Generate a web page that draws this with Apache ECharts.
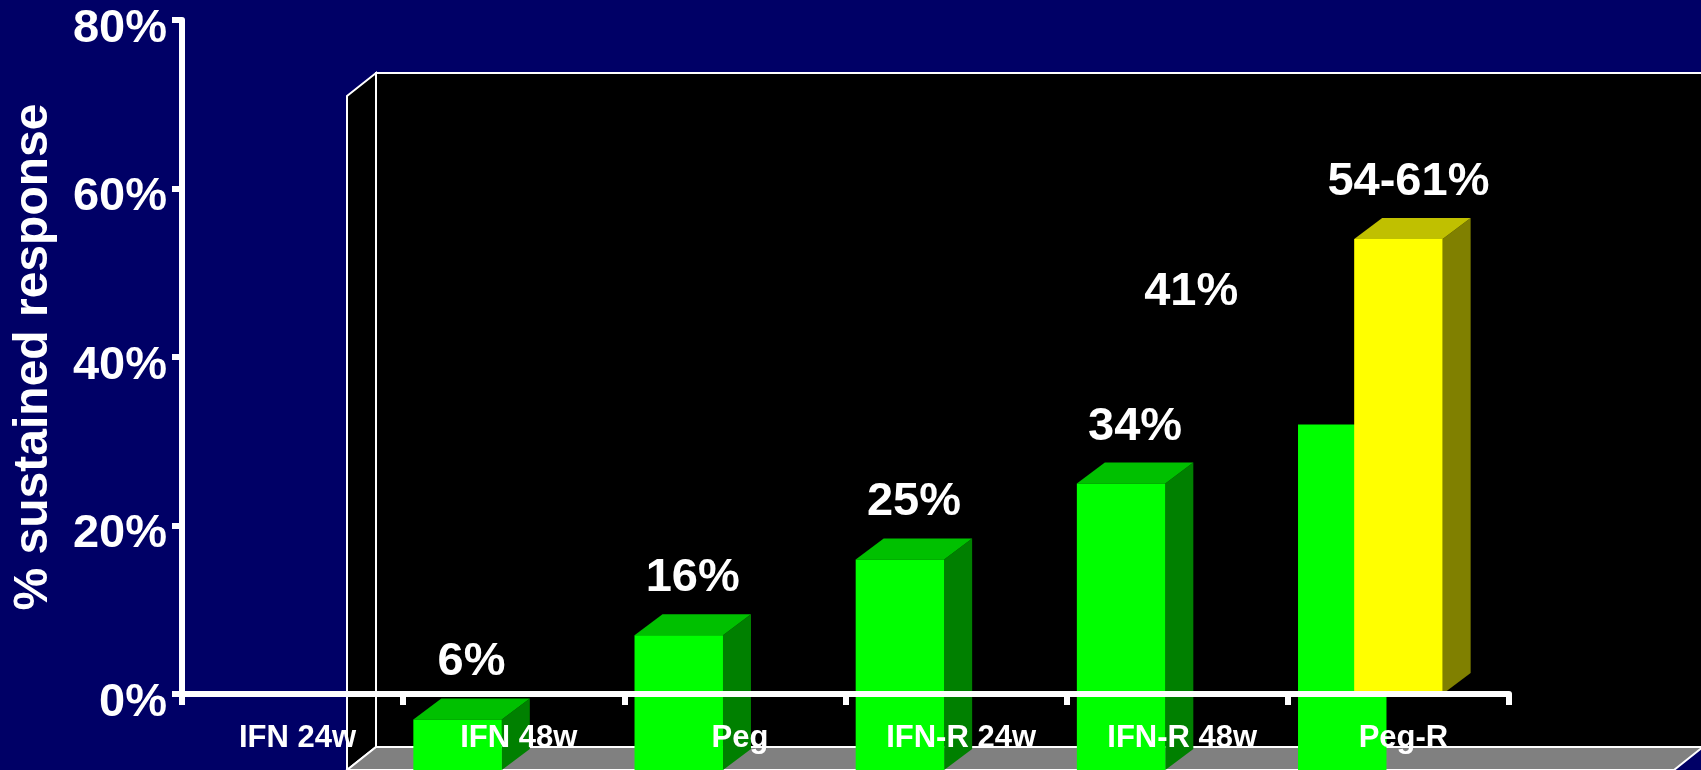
<!DOCTYPE html>
<html>
<head>
<meta charset="utf-8">
<script src="https://cdn.jsdelivr.net/npm/echarts@6/dist/echarts.min.js"></script>
<style>
  html, body { margin: 0; padding: 0; background: #000066; }
  #chart { width: 1701px; height: 770px; }
</style>
</head>
<body>
<div id="chart"></div>
<script>
// Treatment groups and sustained response rates
const categories = ['IFN 24w', 'IFN 48w', 'Peg', 'IFN-R 24w', 'IFN-R 48w', 'Peg-R'];
const responseRates = [6, 16, 25, 34, 41];      // green columns in the 3D box
const pegRRange = [54, 61];                     // Peg-R column (low end) and its labelled range
const yTicks = [0, 20, 40, 60, 80];             // percentage axis ticks

const FONT = '"Liberation Sans", Arial, Helvetica, sans-serif';
const WALL_DX = 29, WALL_DY = -23;              // depth of the 3D box
const BAR_DX = 28, BAR_DY = -21;                // depth of the columns
const LABEL_RISE = 57;                          // value label above column front top

const chart = echarts.init(document.getElementById('chart'), null, { renderer: 'canvas' });

function valueText(x, y, text) {
  return {
    type: 'text', x: x, y: y, z2: 20,
    style: { text: text, fill: '#ffffff', font: 'bold 47px ' + FONT, align: 'center', verticalAlign: 'middle' }
  };
}

// Column with front, top and side faces
function column(api, i, v, colors, flat) {
  const top = api.coord([i, v]);
  const base = api.coord([i, 0]);
  const w = api.size([1, 0])[0] * 0.4;
  const x0 = top[0] - w / 2, x1 = top[0] + w / 2;
  const yT = top[1], yB = base[1];
  const parts = [];
  if (!flat) {
    parts.push({ type: 'polygon', shape: { points: [[x1, yT], [x1 + BAR_DX, yT + BAR_DY], [x1 + BAR_DX, yB + BAR_DY], [x1, yB]] }, style: { fill: colors[2] } });
    parts.push({ type: 'polygon', shape: { points: [[x0, yT], [x0 + BAR_DX, yT + BAR_DY], [x1 + BAR_DX, yT + BAR_DY], [x1, yT]] }, style: { fill: colors[1] } });
  }
  parts.push({ type: 'rect', shape: { x: x0, y: yT, width: w, height: yB - yT }, style: { fill: colors[0] } });
  return { parts: parts, cx: top[0] + BAR_DX / 2, ty: yT };
}

const GREEN = ['#00ff00', '#00c000', '#008000'];
const YELLOW = ['#ffff00', '#c0c000', '#808000'];

const option = {
  backgroundColor: '#000066',
  animation: false,
  grid: [
    // flat percentage axes
    { left: 182, top: 20, width: 1327, height: 674, outerBoundsMode: 'none', containLabel: false },
    // 3D box holding the green columns
    { left: 347, top: 96, width: 1327, height: 674, outerBoundsMode: 'none', containLabel: false }
  ],
  xAxis: [
    {
      gridIndex: 0, type: 'category', data: categories, z: 10,
      axisLine: { show: true, lineStyle: { color: '#ffffff', width: 6 } },
      axisTick: { show: true, length: 11, lineStyle: { color: '#ffffff', width: 6 } },
      axisLabel: { color: '#ffffff', fontSize: 31, fontWeight: 'bold', fontFamily: FONT, margin: 29, interval: 0, padding: [0, 0, 0, 10] },
      splitLine: { show: false }
    },
    { gridIndex: 1, type: 'category', data: categories, show: false }
  ],
  yAxis: [
    {
      gridIndex: 0, type: 'value', min: yTicks[0], max: yTicks[yTicks.length - 1], interval: yTicks[1] - yTicks[0], z: 10,
      axisLine: { show: true, lineStyle: { color: '#ffffff', width: 6 } },
      axisTick: { show: true, length: 10, lineStyle: { color: '#ffffff', width: 6 } },
      axisLabel: {
        color: '#ffffff', fontSize: 47, fontWeight: 'bold', fontFamily: FONT, margin: 15,
        formatter: '{value}%', verticalAlign: 'top', lineHeight: 18
      },
      splitLine: { show: false },
      name: '% sustained response', nameLocation: 'middle', nameRotate: 90, nameGap: 124,
      nameTextStyle: { color: '#ffffff', fontSize: 48, fontWeight: 'bold', fontFamily: FONT }
    },
    { gridIndex: 1, type: 'value', min: yTicks[0], max: yTicks[yTicks.length - 1], show: false }
  ],
  series: [
    {
      // back wall, side wall and floor of the 3D box
      type: 'custom', xAxisIndex: 1, yAxisIndex: 1, z: 1, silent: true,
      data: [[0, 0]],
      renderItem: function (params) {
        const c = params.coordSys;
        const L = c.x, T = c.y, R = c.x + c.width, B = c.y + c.height;
        const line = { stroke: '#ffffff', lineWidth: 2 };
        return {
          type: 'group',
          children: [
            { type: 'rect', shape: { x: L + WALL_DX, y: T + WALL_DY, width: c.width, height: c.height }, style: Object.assign({ fill: '#000000' }, line) },
            { type: 'polygon', shape: { points: [[L, T], [L + WALL_DX, T + WALL_DY], [L + WALL_DX, B + WALL_DY], [L, B]] }, style: Object.assign({ fill: '#000000' }, line) },
            { type: 'polygon', shape: { points: [[L, B], [L + WALL_DX, B + WALL_DY], [R + WALL_DX, B + WALL_DY], [R, B]] }, style: Object.assign({ fill: '#808080' }, line) }
          ]
        };
      }
    },
    {
      // green columns
      type: 'custom', xAxisIndex: 1, yAxisIndex: 1, z: 2, silent: true,
      data: responseRates.map(function (v, i) { return [i, v]; }),
      renderItem: function (params, api) {
        const last = params.dataIndex === responseRates.length - 1;
        const col = column(api, api.value(0), api.value(1), GREEN, last);
        const children = col.parts.slice();
        if (!last) children.push(valueText(col.cx, col.ty - LABEL_RISE, api.value(1) + '%'));
        return { type: 'group', children: children };
      }
    },
    {
      // Peg-R column on the flat axes
      type: 'custom', xAxisIndex: 0, yAxisIndex: 0, z: 3, silent: true,
      data: [[categories.length - 1, pegRRange[0], pegRRange[1]]],
      renderItem: function (params, api) {
        const col = column(api, api.value(0), api.value(1), YELLOW, false);
        const children = col.parts.slice();
        children.push(valueText(col.cx - 4, col.ty - LABEL_RISE, api.value(1) + '-' + api.value(2) + '%'));
        return { type: 'group', children: children };
      }
    },
    {
      // IFN-R 48w value label on the flat axes
      type: 'custom', xAxisIndex: 0, yAxisIndex: 0, z: 4, silent: true,
      data: [[4, responseRates[4]]],
      renderItem: function (params, api) {
        const p = api.coord([api.value(0), api.value(1)]);
        return valueText(p[0] + BAR_DX / 2, p[1] - LABEL_RISE, api.value(1) + '%');
      }
    }
  ]
};

chart.setOption(option);
</script>
</body>
</html>
